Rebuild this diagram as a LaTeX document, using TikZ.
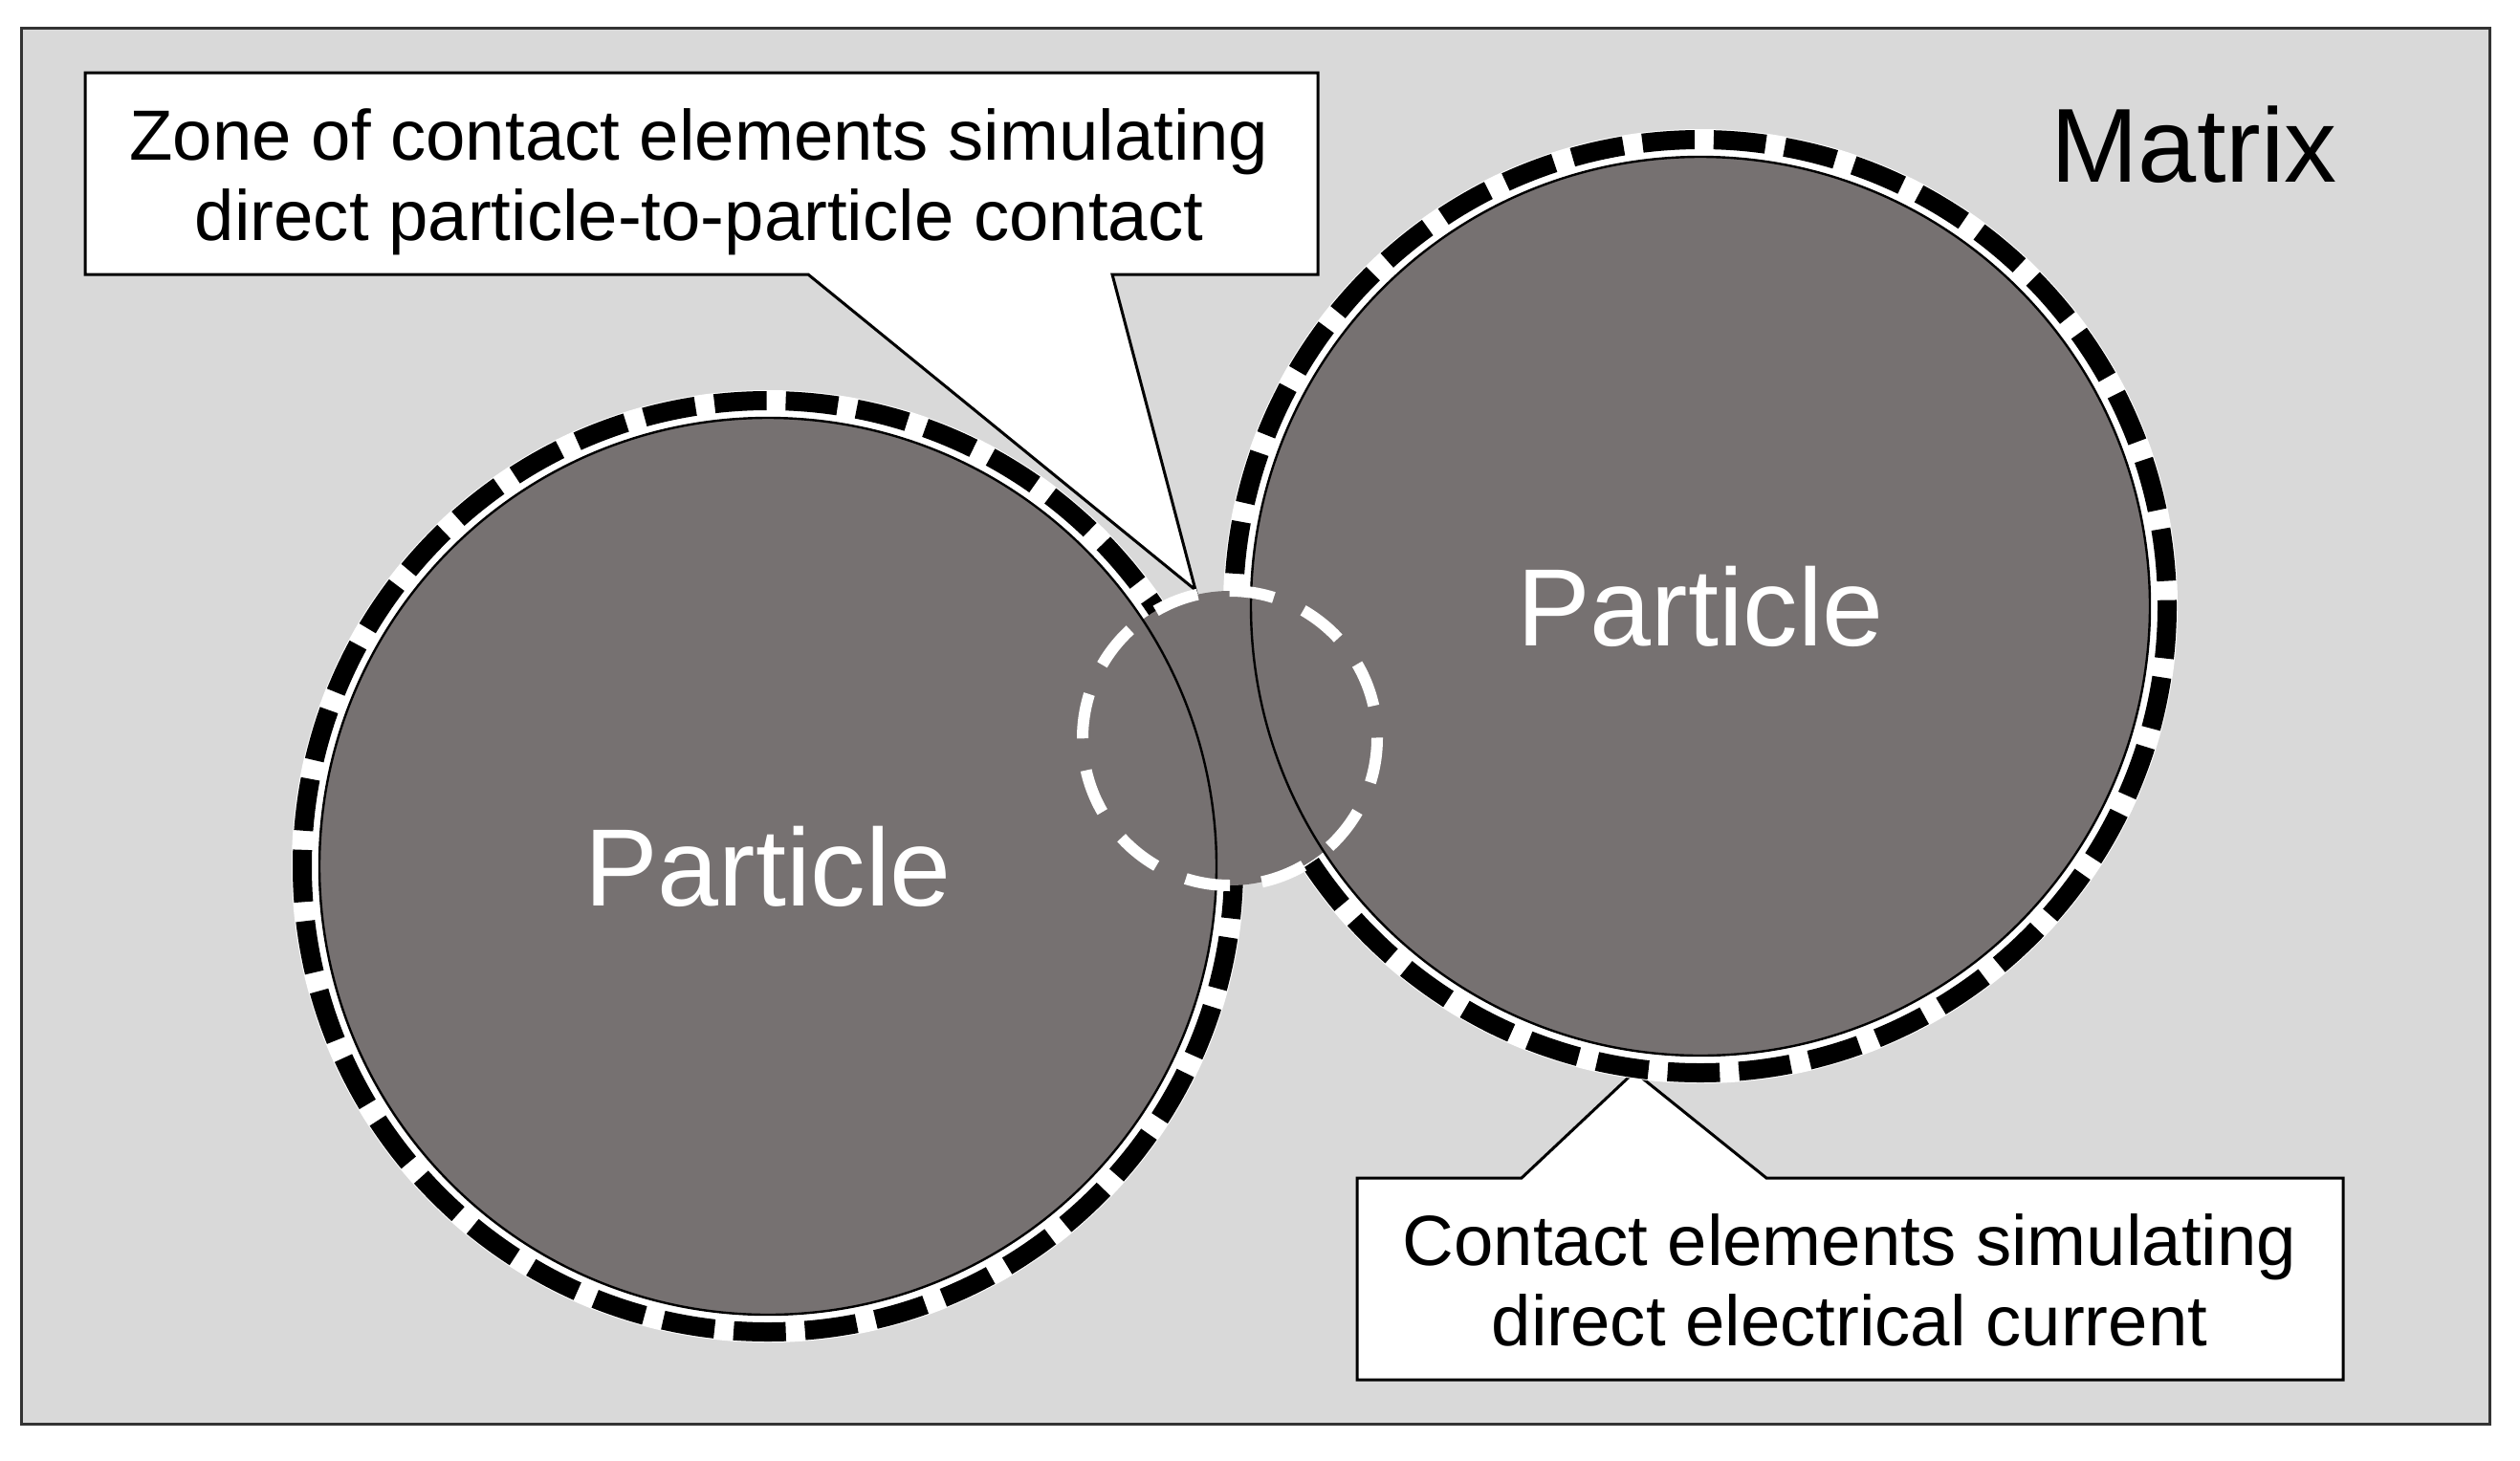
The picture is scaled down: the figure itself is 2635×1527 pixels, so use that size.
\documentclass[tikz,border=0pt]{standalone}
\usepackage{fontspec}
\setmainfont{Liberation Sans}
\definecolor{matrixgray}{HTML}{D9D9D9}
\definecolor{partgray}{HTML}{767171}
\definecolor{framegray}{HTML}{333333}
\tikzset{
  frame/.style={draw=framegray, line width=1.5pt, fill=matrixgray},
  callout/.style={draw=black, line width=1.5pt, fill=white, line join=miter},
  calltext/.style={inner sep=0pt, align=center, font=\fontsize{37.2}{42}\selectfont},
  particle/.style={circle, fill=partgray, draw=black, line width=1.2pt, inner sep=0pt, outer sep=0pt,
    minimum size=#1, text=white, font=\fontsize{57.5}{64}\selectfont},
  ringband/.style={draw=white, line width=14pt},
  ringdash/.style={draw=black, line width=10pt, dash pattern=on 27.3pt off 10.02pt},
  zonefill/.style={fill=partgray},
  zonedash/.style={draw=white, line width=6pt, dash pattern=on 23.5pt off 16.8pt},
  bigtext/.style={inner sep=0pt, anchor=base, font=\fontsize{55}{60}\selectfont}
}
\begin{document}
\begin{tikzpicture}[x=0.5pt,y=-0.5pt]
\useasboundingbox (0,0) rectangle (2635,1527);
\fill[white] (0,0) rectangle (2635,1527);
% matrix frame
\draw[frame] (22,29) rectangle (2603,1489);
% named points
\coordinate (Zc) at (1286,772);
\coordinate (A1) at (1250,617);
\coordinate (A2) at (1709,1121);
% callout shapes
\draw[callout] (89,76) -- (1378,76) -- (1378,287) -- (1163,287) -- (A1) -- (845,287) -- (89,287) -- cycle;
\draw[callout] (1419,1232) -- (1591,1232) -- (A2) -- (1847,1232) -- (2450,1232) -- (2450,1443) -- (1419,1443) -- cycle;
% particle centres
\coordinate (L) at (803,906);
\coordinate (R) at (1778,634);
% dashed contact element rings
\draw[ringband] (L) circle[radius=484];
\draw[ringband] (R) circle[radius=485];
\draw[ringdash] (L) circle[radius=487];
\draw[ringdash] (R) circle[radius=488];
% contact zone fill
\fill[zonefill] (Zc) circle[radius=154];
% particles
\node[particle=469pt] (P1) at (L) {Particle};
\node[particle=470pt] (P2) at (R) {Particle};
% contact zone dashed outline
\draw[zonedash] (Zc) circle[radius=154];
% texts
\node[bigtext] (M) at (2294,190) {Matrix};
\node[calltext] (C1) at (731,190) {Zone of contact elements simulating\\direct particle-to-particle contact};
\node[calltext] (C2) at (1934,1339) {Contact elements simulating\\direct electrical current};
\end{tikzpicture}
\end{document}
